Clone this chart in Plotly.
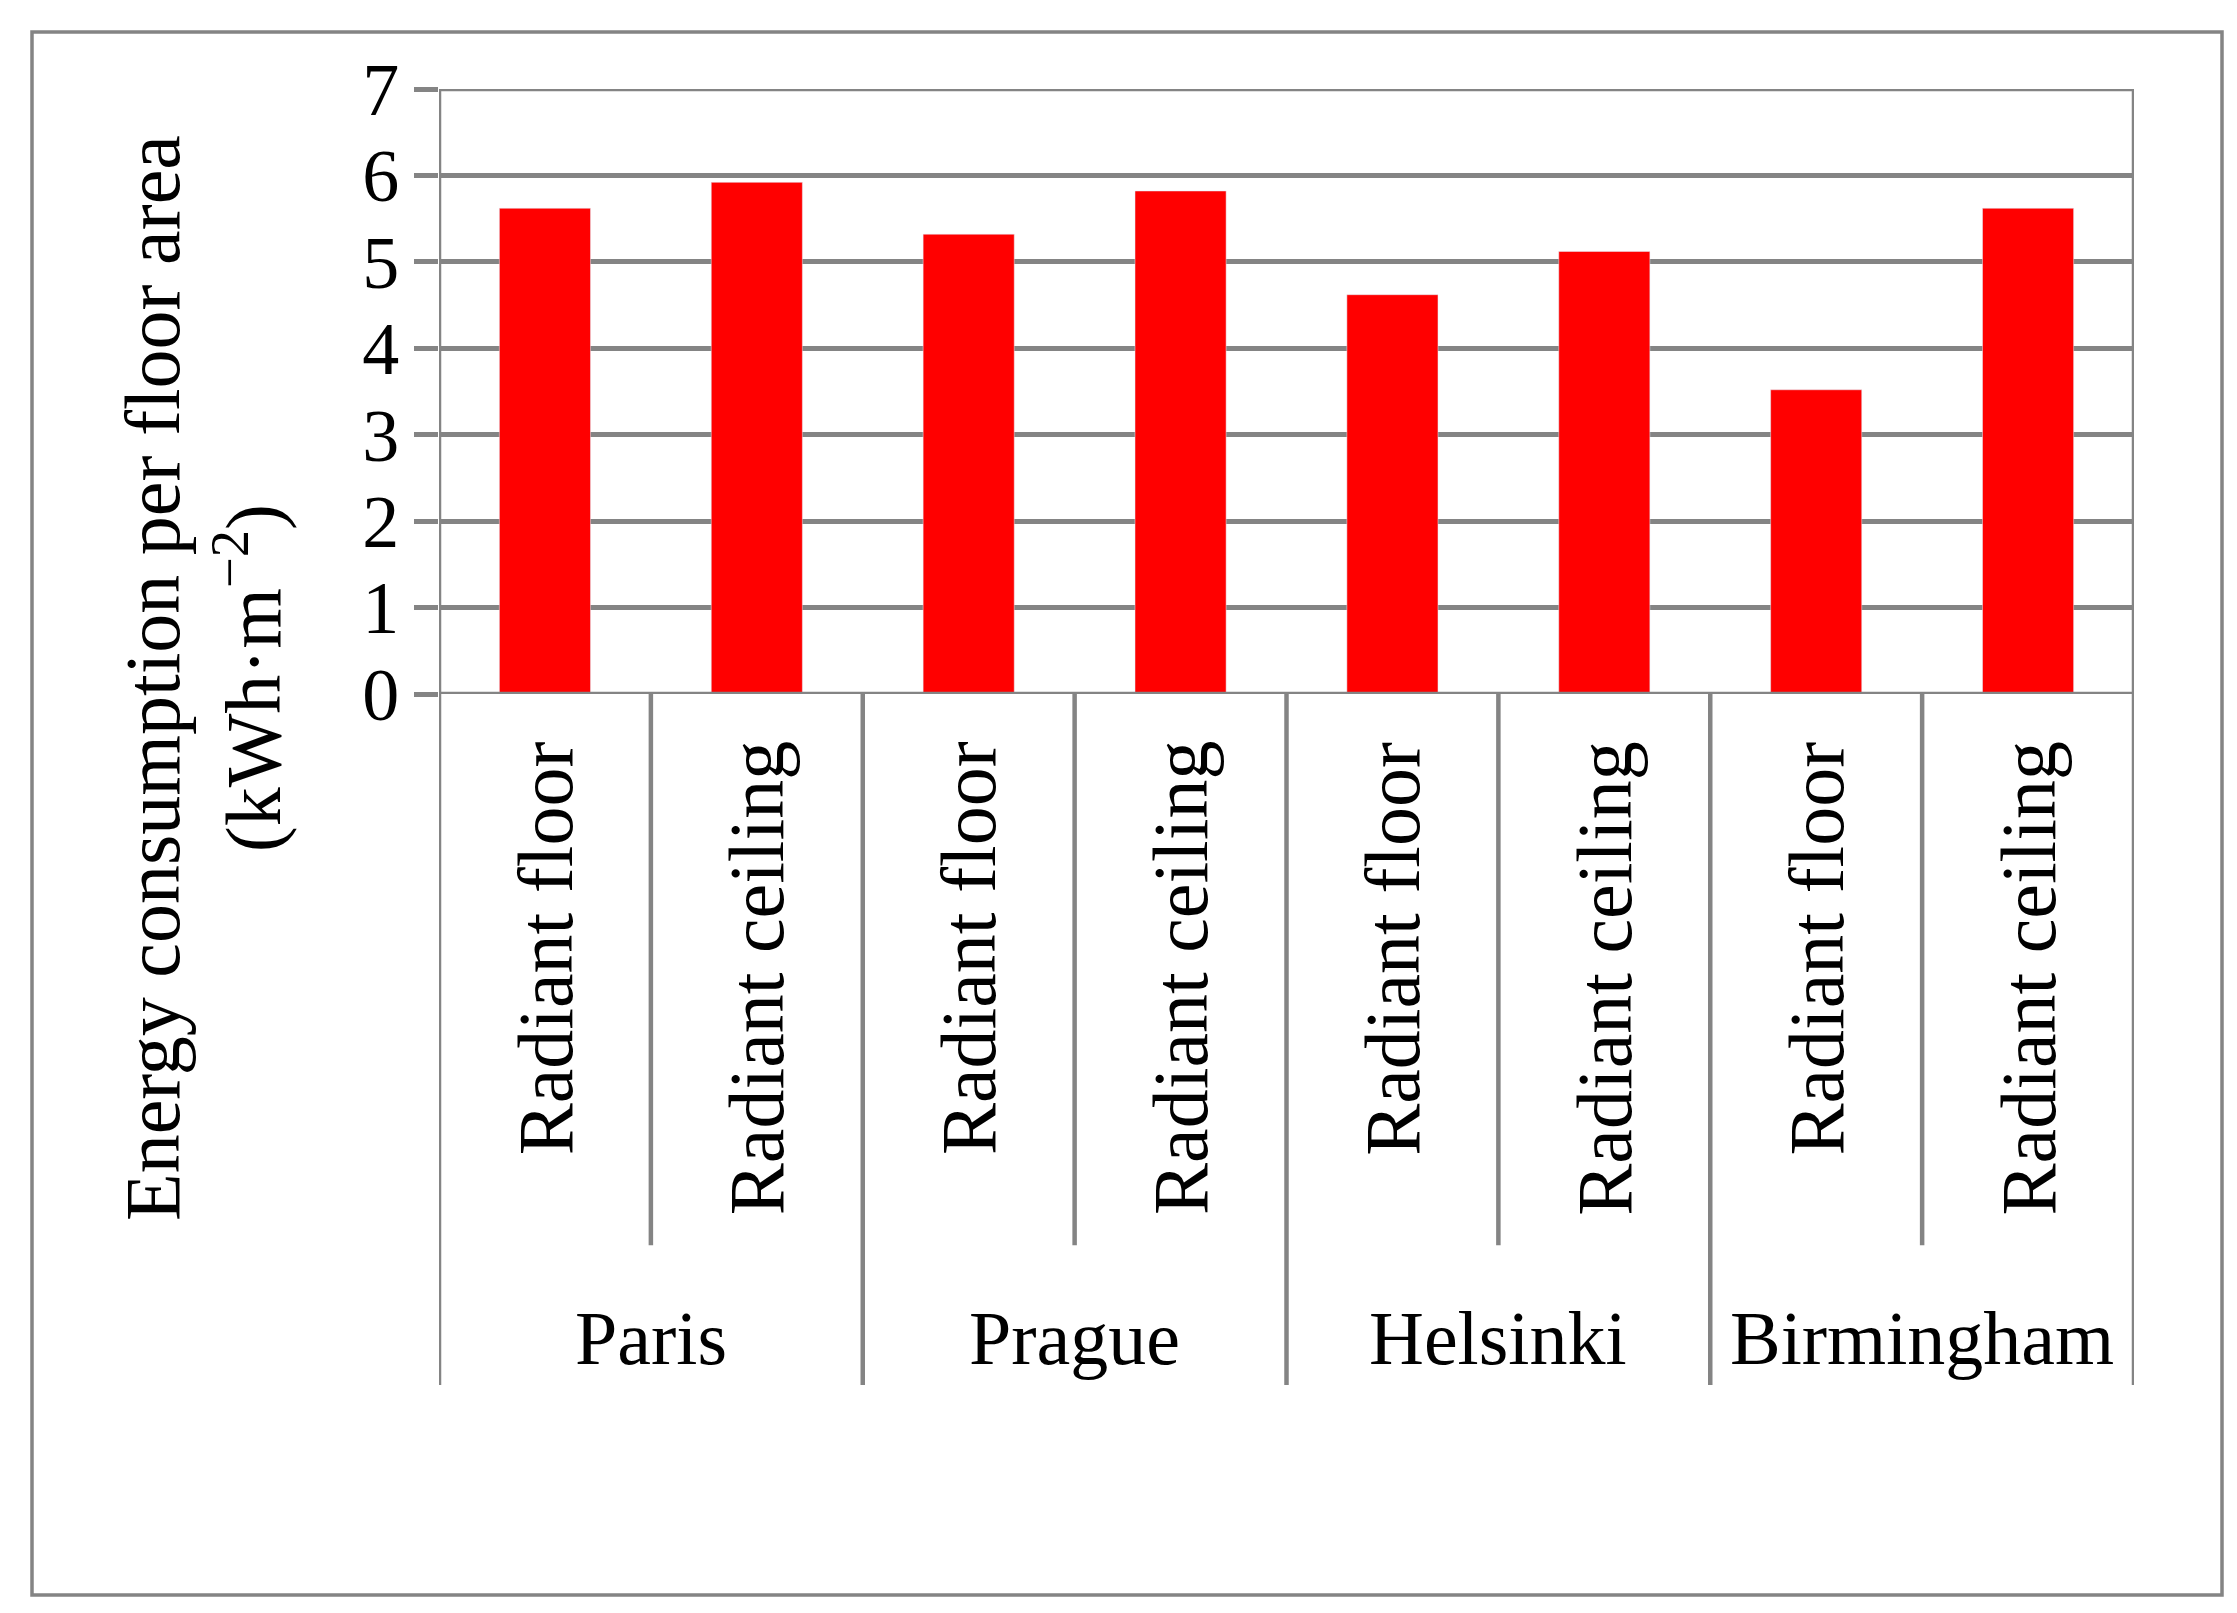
import plotly.graph_objects as go

cities = ["Paris", "Prague", "Helsinki", "Birmingham"]
systems = ["Radiant floor", "Radiant ceiling"]
values = [5.62, 5.92, 5.32, 5.82, 4.62, 5.12, 3.52, 5.62]
yticks = [0, 1, 2, 3, 4, 5, 6, 7]

xs = list(range(len(values)))
F = "Liberation Serif, Times New Roman, serif"
GRAY = "#848484"
LW = 4.5

fig = go.Figure(go.Bar(x=xs, y=values, marker_color="#ff0000", width=0.43))

shapes = []
for i in range(len(values) + 1):
    xv = i - 0.5
    y1 = -1.142 if i % 2 == 0 else -0.911
    y0 = 1.0 if i in (0, len(values)) else 0
    shapes.append(dict(type="line", xref="x", yref="paper", x0=xv, x1=xv, y0=y0, y1=y1,
                       line=dict(color=GRAY, width=LW)))
# top gridline at 7 and baseline
for yv in (0, 7):
    shapes.append(dict(type="line", xref="paper", yref="y", x0=0, x1=1, y0=yv, y1=yv,
                       line=dict(color=GRAY, width=LW)))
shapes.append(dict(type="rect", xref="paper", yref="paper",
                   x0=(24 - 431) / 1695, x1=(2214 - 431) / 1695,
                   y0=(686 - 1587) / 605, y1=(686 - 24) / 605,
                   line=dict(color=GRAY, width=3.5)))

ann = []
for i, v in enumerate(values):
    ann.append(dict(x=i, y=-0.075, xref="x", yref="paper", text=systems[i % 2],
                    textangle=-90, showarrow=False, xanchor="center", yanchor="top",
                    font=dict(family=F, size=78, color="black")))
for j, c in enumerate(cities):
    ann.append(dict(x=2 * j + 0.5, y=(686 - 1330) / 605, xref="x", yref="paper", text=c,
                    showarrow=False, xanchor="center", yanchor="middle",
                    font=dict(family=F, size=76, color="black")))
ann.append(dict(x=(195 - 431) / 1695, y=(686 - 670) / 605, xref="paper", yref="paper",
                text="Energy consumption per floor area<br>(kWh·m<sup>−2</sup>)",
                textangle=-90, showarrow=False, xanchor="center", yanchor="middle",
                font=dict(family=F, size=78, color="black")))

fig.update_layout(
    width=2237, height=1613, plot_bgcolor="white", paper_bgcolor="white",
    margin=dict(l=431, r=111, t=81, b=927), showlegend=False,
    shapes=shapes, annotations=ann,
    xaxis=dict(range=[-0.5, 7.5], showticklabels=False, showgrid=False, zeroline=False,
               showline=False, ticks=""),
    yaxis=dict(range=[0, 7], tickvals=yticks, showgrid=True, gridcolor=GRAY, gridwidth=LW,
               zeroline=False, showline=False, ticks="outside", ticklen=24, tickwidth=LW,
               tickcolor=GRAY, tickfont=dict(family=F, size=74, color="black")),
)
fig.write_html("out.html")
